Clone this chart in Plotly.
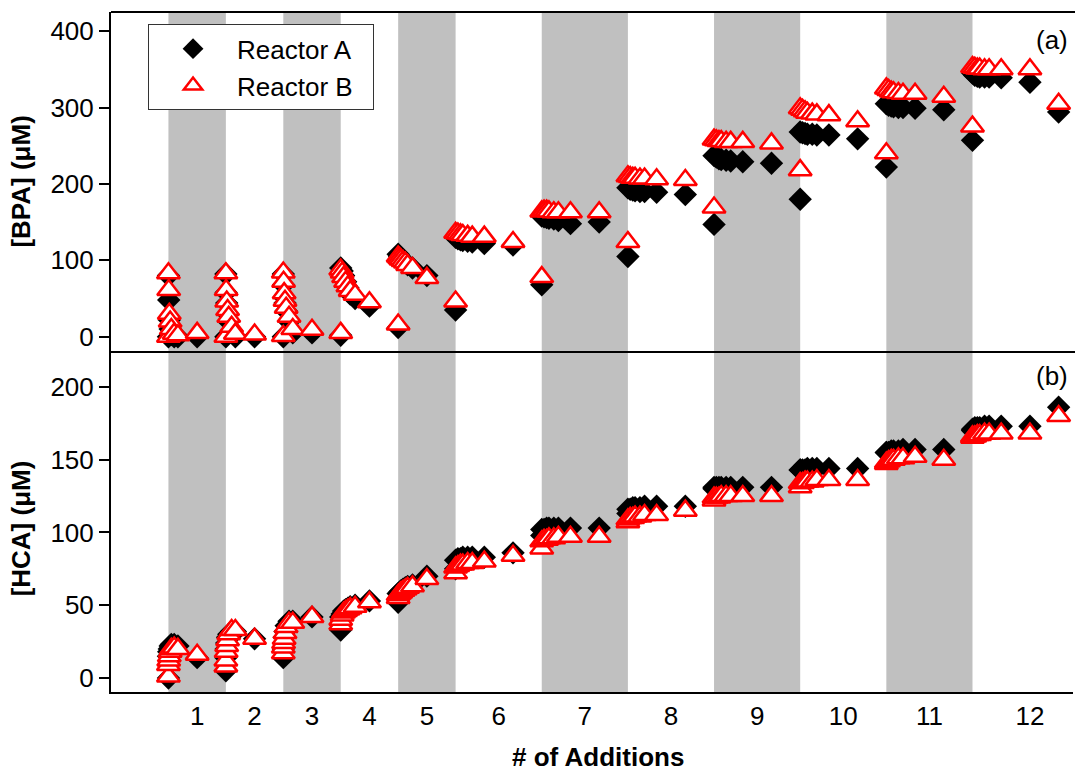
import plotly.graph_objects as go

# ---------------- data ----------------
# sampling time (days); each addition: pre-addition sample, 7 post-addition samples, mid-period sample
days = [
    2.0, 2.0, 2.01, 2.03, 2.06, 2.1, 2.2, 2.33, 3.0,
    4.0, 4.0, 4.01, 4.03, 4.06, 4.1, 4.2, 4.33, 5.0,
    6.0, 6.0, 6.01, 6.03, 6.06, 6.1, 6.2, 6.33, 7.0,
    8.0, 8.0, 8.05, 8.1, 8.17, 8.25, 8.33, 8.5, 9.0,
    10.0, 10.0, 10.05, 10.1, 10.17, 10.25, 10.33, 10.5, 11.0,
    12.0, 12.0, 12.08, 12.17, 12.25, 12.42, 12.58, 13.0, 14.0,
    15.0, 15.0, 15.08, 15.17, 15.25, 15.42, 15.58, 16.0, 17.0,
    18.0, 18.0, 18.08, 18.17, 18.25, 18.42, 18.58, 19.0, 20.0,
    21.0, 21.0, 21.08, 21.17, 21.25, 21.42, 21.58, 22.0, 23.0,
    24.0, 24.0, 24.08, 24.17, 24.25, 24.42, 24.58, 25.0, 26.0,
    27.0, 27.0, 27.08, 27.17, 27.25, 27.42, 27.58, 28.0, 29.0,
    30.0, 30.0, 30.08, 30.17, 30.25, 30.42, 30.58, 31.0, 32.0,
    33.0,
]

bpa_a = [
    0, 80, 48, 22, 10, 3, 0, 0, 0,
    0, 82, 58, 44, 30, 20, 8, 0, 0,
    0, 82, 68, 52, 44, 34, 20, 5, 5,
    2, 90, 86, 80, 72, 64, 56, 50, 40,
    12, 108, 105, 102, 100, 97, 94, 90, 80,
    35, 130, 128, 127, 126, 125, 124, 122, 120,
    68, 158, 157, 156, 155, 154, 152, 148, 150,
    105, 195, 193, 192, 191, 190, 190, 189, 186,
    147, 237, 235, 233, 232, 231, 230, 229, 227,
    180, 268, 267, 266, 265, 265, 264, 264, 259,
    222, 305, 303, 302, 301, 300, 300, 299, 297,
    257, 345, 342, 341, 340, 340, 340, 339, 333,
    294,
]

bpa_b = [
    0, 83, 61, 30, 20, 10, 4, 2, 5,
    0, 83, 61, 46, 35, 26, 13, 4, 3,
    1, 84, 72, 57, 47, 38, 26, 10, 9,
    5, 88, 84, 78, 72, 66, 60, 55, 45,
    16, 105, 103, 101, 99, 97, 94, 90, 77,
    46, 136, 135, 134, 133, 132, 131, 131, 124,
    78, 164, 165, 165, 164, 163, 163, 163, 163,
    124, 210, 209, 208, 208, 207, 207, 206, 205,
    169, 258, 257, 256, 256, 255, 255, 255, 253,
    218, 299, 297, 295, 293, 292, 291, 290, 282,
    240, 325, 323, 321, 320, 319, 318, 318, 314,
    275, 353, 352, 351, 351, 350, 350, 350, 350,
    305,
]

hca_a = [
    0, 15, 18, 20, 22, 23, 23, 22, 14,
    5, 14, 20, 24, 28, 30, 32, 32, 27,
    14, 20, 24, 28, 32, 36, 39, 39, 42,
    33, 42, 44, 46, 47, 48, 49, 50, 53,
    52, 58, 59, 60, 61, 62, 63, 64, 70,
    75, 81, 82, 82, 83, 83, 83, 83, 86,
    98, 102, 102, 103, 103, 103, 103, 103, 103,
    113, 116, 116, 117, 117, 117, 118, 118, 118,
    130, 131, 131, 131, 131, 131, 131, 131, 131,
    143, 143, 143, 143, 144, 144, 144, 144, 144,
    155, 155, 155, 156, 156, 156, 157, 157, 157,
    170, 171, 172, 172, 172, 173, 173, 173, 173,
    186,
]

hca_b = [
    1, 9, 12, 15, 18, 20, 21, 20, 16,
    8, 12, 18, 22, 26, 30, 33, 33, 27,
    17, 21, 24, 27, 31, 35, 38, 38, 42,
    37, 40, 43, 45, 46, 47, 48, 49, 52,
    55, 57, 58, 59, 60, 61, 62, 63, 68,
    72, 76, 77, 78, 78, 79, 79, 80, 84,
    89, 94, 95, 95, 96, 96, 97, 97, 97,
    107, 109, 110, 110, 111, 111, 112, 112, 115,
    122, 124, 124, 124, 125, 125, 125, 125, 125,
    131, 134, 134, 135, 135, 135, 136, 136, 136,
    147, 148, 149, 150, 150, 151, 151, 152, 150,
    165, 166, 166, 167, 167, 168, 168, 168, 168,
    180,
]

# addition number labels (placed at the middle of each addition period, in days)
addition_pos = [3, 5, 7, 9, 11, 13.5, 16.5, 19.5, 22.5, 25.5, 28.5, 32]
addition_lbl = ["1", "2", "3", "4", "5", "6", "7", "8", "9", "10", "11", "12"]

# shaded (odd-numbered) addition periods, in days
band_start = [2, 6, 10, 15, 21, 27]
band_end = [4, 8, 12, 18, 24, 30]

# ---------------- figure ----------------
FONT = "Liberation Sans, Arial, Helvetica, sans-serif"
dia = dict(symbol="diamond", size=18, color="black", line=dict(width=0))
tri = dict(symbol="triangle-up", size=20, color="white", line=dict(color="#FF0000", width=2.5))
PAD = "\u00a0\u00a0"

fig = go.Figure()
fig.add_trace(go.Scatter(x=days, y=bpa_a, mode="markers", marker=dia, name="Reactor A" + PAD,
                         xaxis="x", yaxis="y", legendgroup="A"))
fig.add_trace(go.Scatter(x=days, y=bpa_b, mode="markers", marker=tri, name="Reactor B" + PAD,
                         xaxis="x", yaxis="y", legendgroup="B"))
fig.add_trace(go.Scatter(x=days, y=hca_a, mode="markers", marker=dia, name="Reactor A",
                         xaxis="x", yaxis="y2", legendgroup="A", showlegend=False))
fig.add_trace(go.Scatter(x=days, y=hca_b, mode="markers", marker=tri, name="Reactor B",
                         xaxis="x", yaxis="y2", legendgroup="B", showlegend=False))

shapes = []
for s, e in zip(band_start, band_end):
    shapes.append(dict(type="rect", xref="x", yref="paper", x0=s, x1=e, y0=0, y1=1,
                       fillcolor="#C0C0C0", line=dict(width=0), layer="below"))
# frame lines: top and middle separator
shapes.append(dict(type="line", xref="paper", yref="paper", x0=0, x1=1.01, y0=1, y1=1,
                   line=dict(color="black", width=2)))
shapes.append(dict(type="line", xref="paper", yref="paper", x0=0, x1=1.01, y0=0.5, y1=0.5,
                   line=dict(color="black", width=2)))

axis_common = dict(showgrid=False, zeroline=False, showline=True, linecolor="black", linewidth=2,
                   ticks="outside", ticklen=10, tickwidth=1.5, tickcolor="black",
                   tickfont=dict(family=FONT, size=26, color="black"))

fig.update_layout(
    width=1075, height=772,
    margin=dict(l=111, r=2, t=12, b=80),
    paper_bgcolor="white", plot_bgcolor="white",
    font=dict(family=FONT, size=26, color="black"),
    xaxis=dict(domain=[0, 1], anchor="y2", range=[0, 33.5], showgrid=False, zeroline=False,
               showline=True, linecolor="black", linewidth=2, ticks="",
               tickvals=addition_pos, ticktext=addition_lbl,
               tickfont=dict(family=FONT, size=26, color="black")),
    yaxis=dict(domain=[0.5, 1], anchor="x", range=[-20, 425],
               tickvals=[0, 100, 200, 300, 400], **axis_common),
    yaxis2=dict(domain=[0, 0.5], anchor="x", range=[-9.6, 224],
                tickvals=[0, 50, 100, 150, 200], **axis_common),
    shapes=shapes,
    showlegend=True,
    legend=dict(x=0.0385, y=0.982, xanchor="left", yanchor="top",
                bgcolor="white", bordercolor="#333333", borderwidth=1,
                font=dict(family=FONT, size=26, color="black"),
                itemwidth=78, tracegroupgap=0),
    annotations=[
        dict(text="(a)", xref="paper", yref="paper", x=0.997, y=0.959, xanchor="right",
             yanchor="middle", showarrow=False, font=dict(family=FONT, size=26)),
        dict(text="(b)", xref="paper", yref="paper", x=0.997, y=0.465, xanchor="right",
             yanchor="middle", showarrow=False, font=dict(family=FONT, size=26)),
        dict(text="<b>[BPA] (μM)</b>", xref="paper", yref="paper", x=-0.094, y=0.75,
             xanchor="center", yanchor="middle", textangle=-90, showarrow=False,
             font=dict(family=FONT, size=26)),
        dict(text="<b>[HCA] (μM)</b>", xref="paper", yref="paper", x=-0.094, y=0.24,
             xanchor="center", yanchor="middle", textangle=-90, showarrow=False,
             font=dict(family=FONT, size=26)),
        dict(text="<b># of Additions</b>", xref="paper", yref="paper", x=0.506, y=-0.096,
             xanchor="center", yanchor="middle", showarrow=False,
             font=dict(family=FONT, size=26)),
    ],
)

fig.write_html("out.html")
